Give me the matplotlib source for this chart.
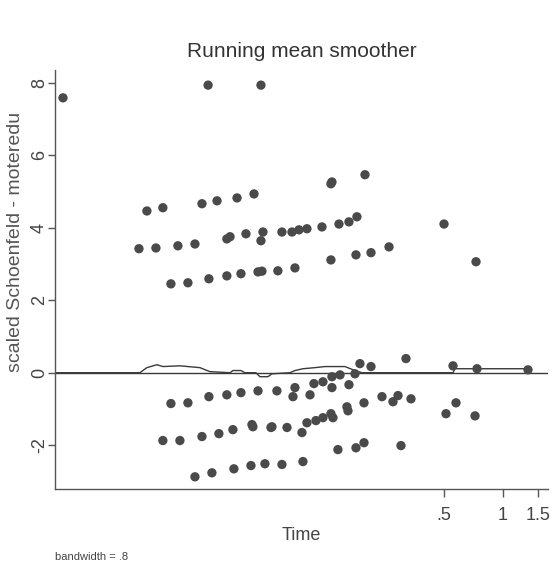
import matplotlib
matplotlib.use("Agg")
import matplotlib.pyplot as plt
from matplotlib.ticker import NullLocator, FixedLocator, FixedFormatter

plt.rcParams['font.family'] = ['Liberation Sans', 'DejaVu Sans']

# scaled Schoenfeld residuals (time on log scale)
time = [0.00583, 0.0318, 0.0590,
        0.01555, 0.01874, 0.0296, 0.0353, 0.0446, 0.0544,
        0.1337, 0.1353, 0.1991,
        0.0754, 0.0848, 0.0920, 0.1010, 0.1204, 0.1469, 0.1651, 0.1812, 0.5016,
        0.01417, 0.01728, 0.02234, 0.02727, 0.0396, 0.0411, 0.0495, 0.0604, 0.0590,
        0.1337, 0.1792, 0.2136, 0.2637, 0.7292,
        0.02059, 0.02512, 0.0321, 0.0396, 0.0467, 0.0570, 0.0719, 0.0878, 0.0597,
        0.1877, 0.2136, 0.3215, 0.5571, 0.7379, 1.339,
        0.02059, 0.02512, 0.0321, 0.0396, 0.0467, 0.0570, 0.0711, 0.0878, 0.0858,
        0.1047, 0.1096, 0.1218, 0.1353, 0.1353, 0.1487, 0.1651, 0.1771, 0.2429,
        0.2762, 0.2929, 0.3409, 0.5133, 0.5770, 0.7209,
        0.01874, 0.02287, 0.0296, 0.03608, 0.0425, 0.0531, 0.0537, 0.0663, 0.0671,
        0.0800, 0.0953, 0.1010, 0.1122, 0.1218, 0.1337, 0.1369, 0.1612, 0.1632, 0.1968,
        0.1451, 0.1792, 0.1968, 0.3033,
        0.02727, 0.03325, 0.0430, 0.0525, 0.0618, 0.0754, 0.0964]
resid = [7.58, 7.93, 7.93,
         4.46, 4.55, 4.66, 4.74, 4.82, 4.93,
         5.21, 5.26, 5.46,
         3.88, 3.88, 3.94, 3.97, 4.02, 4.10, 4.16, 4.30, 4.10,
         3.42, 3.44, 3.50, 3.55, 3.69, 3.75, 3.83, 3.88, 3.64,
         3.11, 3.25, 3.31, 3.47, 3.06,
         2.45, 2.48, 2.59, 2.67, 2.73, 2.78, 2.81, 2.89, 2.80,
         0.25, 0.17, 0.39, 0.19, 0.11, 0.08,
         -0.85, -0.83, -0.66, -0.61, -0.55, -0.50, -0.50, -0.41, -0.66,
         -0.61, -0.30, -0.25, -0.11, -0.41, -0.06, -0.33, -0.03, -0.66,
         -0.80, -0.63, -0.72, -1.13, -0.83, -1.19,
         -1.87, -1.87, -1.76, -1.68, -1.57, -1.43, -1.49, -1.51, -1.49,
         -1.51, -1.65, -1.38, -1.32, -1.24, -1.13, -1.24, -0.94, -1.05, -0.83,
         -2.12, -2.07, -1.93, -2.01,
         -2.87, -2.76, -2.65, -2.56, -2.51, -2.53, -2.45]

# running mean smoother
smooth_t = [0.0053, 0.01432, 0.01555, 0.01748, 0.01874, 0.02287, 0.02512, 0.0289,
            0.03249, 0.0411, 0.0425, 0.0467, 0.0489, 0.0556, 0.0583, 0.0640, 0.0671,
            0.0828, 0.0878, 0.0964, 0.1109, 0.1247, 0.1576, 0.1771, 0.1922, 0.5571,
            0.5705, 1.339, 1.36]
smooth_y = [0, 0, 0.14, 0.22, 0.17, 0.19, 0.17, 0.14,
            0.03, 0, 0.06, 0.06, 0, 0, -0.11, -0.11, -0.03,
            0, 0.06, 0.11, 0.14, 0.17, 0.17, 0.06, 0, 0,
            0.11, 0.11, 0]

yticks = [-2, 0, 2, 4, 6, 8]
xticks = [0.5, 1, 1.5]
xtick_labels = ['.5', '1', '1.5']

fig = plt.figure(figsize=(5.54, 5.73), dpi=100)
ax = fig.add_axes([0.099, 0.147, 0.89, 0.731])

ax.axhline(0, color='#3a3a3a', lw=1.0, zorder=1)
ax.plot(smooth_t, smooth_y, color='#3a3a3a', lw=1.0, zorder=2)
ax.scatter(time, resid, s=45, color='#4a4a4a', edgecolors='none', zorder=3)

ax.set_xscale('log')
ax.set_xlim(0.0053, 1.69)
ax.set_ylim(-3.2, 8.35)
ax.xaxis.set_major_locator(FixedLocator(xticks))
ax.xaxis.set_major_formatter(FixedFormatter(xtick_labels))
ax.xaxis.set_minor_locator(NullLocator())
ax.set_yticks(yticks)
ax.set_yticklabels([str(v) for v in yticks], rotation=90, va='center')

for s in ['top', 'right']:
    ax.spines[s].set_visible(False)
for s in ['left', 'bottom']:
    ax.spines[s].set_color('#555555')
    ax.spines[s].set_linewidth(1.0)
ax.tick_params(axis='y', direction='out', length=5, width=1, color='#555555',
               labelsize=13, labelcolor='#444444', pad=0)
ax.tick_params(axis='x', direction='out', length=6, width=1, color='#555555',
               labelsize=13, labelcolor='#444444', pad=7)

ax.set_title('Running mean smoother', fontsize=15, color='#333333', pad=9)
ax.set_xlabel('Time', fontsize=13, color='#444444', labelpad=2)
ax.set_ylabel('scaled Schoenfeld - moteredu', fontsize=14, color='#555555')
ax.yaxis.set_label_coords(-0.062, 0.59)

fig.text(0.099, 0.022, 'bandwidth = .8', fontsize=8, color='#444444')

fig.savefig('out.png', dpi=100)
